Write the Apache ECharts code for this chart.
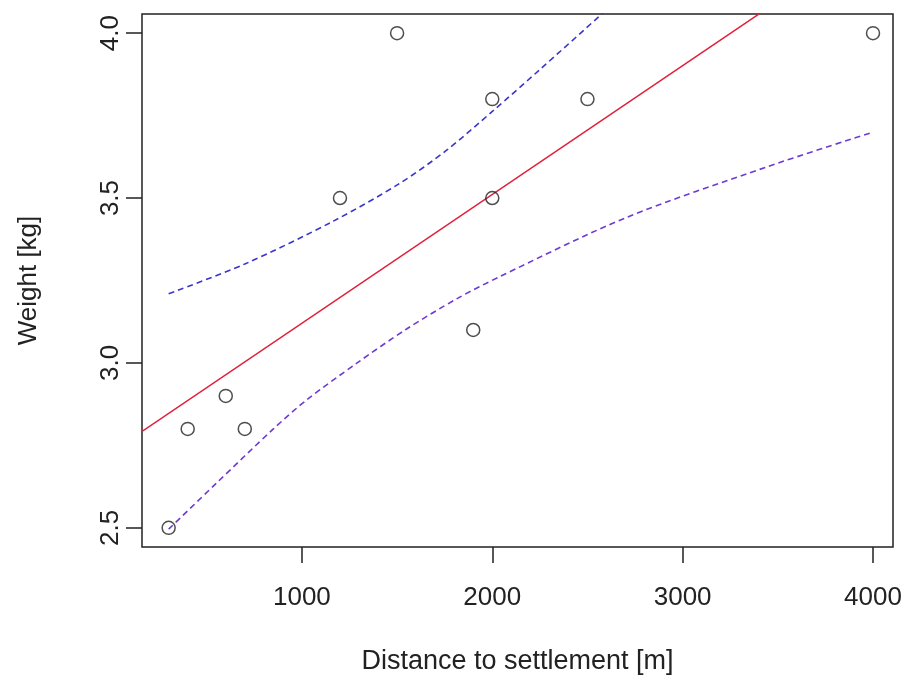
<!DOCTYPE html>
<html>
<head>
<meta charset="utf-8">
<title>Weight vs distance</title>
<script src="https://cdn.jsdelivr.net/npm/echarts@6/dist/echarts.min.js"></script>
<style>
  html, body { margin: 0; padding: 0; background: #fff; }
  #chart { width: 905px; height: 682px; }
</style>
</head>
<body>
<div id="chart"></div>
<script>
// observed points: distance [m], weight [kg]
const distance = [300, 400, 600, 700, 1200, 1500, 1900, 2000, 2000, 2500, 4000]
const weight = [2.5, 2.8, 2.9, 2.8, 3.5, 4.0, 3.1, 3.8, 3.5, 3.8, 4.0]

// fitted line, read at both ends of the plot
const fitLine = [[0, 2.73], [4200, 4.37]]

// dashed bands
const upperBand = [[300, 3.21], [700, 3.30], [1165, 3.43], [1515, 3.545], [1760, 3.645],
  [2005, 3.765], [2251, 3.89], [2575, 4.058], [2700, 4.125]]
const lowerBand = [[300, 2.496], [550, 2.635], [850, 2.80], [1025, 2.888], [1290, 3.0],
  [1550, 3.103], [1815, 3.195], [2040, 3.262], [2700, 3.44], [3440, 3.594], [4000, 3.70]]

// tick labels
const xTicks = [1000, 2000, 3000, 4000]
const yTicks = [2.5, 3.0, 3.5, 4.0]

const font = 'Liberation Sans, Arial, sans-serif'
const ink = '#222'

const chart = echarts.init(document.getElementById('chart'))

const option = {
  animation: false,
  backgroundColor: '#fff',
  grid: {
    left: 142, right: 12, top: 14, bottom: 135,
    outerBoundsMode: 'none',
    containLabel: false,
    show: true, borderColor: ink, borderWidth: 1.5, backgroundColor: 'transparent'
  },
  xAxis: {
    type: 'value',
    min: 160, max: 4105,
    name: 'Distance to settlement [m]',
    nameLocation: 'middle',
    nameGap: 101,
    nameTextStyle: { fontFamily: font, fontSize: 27, color: ink },
    axisLine: { show: false },
    splitLine: { show: false },
    axisTick: { show: true, customValues: xTicks, length: 16, lineStyle: { color: ink, width: 1.5 } },
    axisLabel: {
      customValues: xTicks, margin: 38, fontFamily: font, fontSize: 26, color: ink,
      formatter: v => String(v)
    }
  },
  yAxis: {
    type: 'value',
    min: 2.442, max: 4.058,
    name: 'Weight [kg]',
    nameLocation: 'middle',
    nameGap: 100,
    nameTextStyle: { fontFamily: font, fontSize: 26, color: ink },
    axisLine: { show: false },
    splitLine: { show: false },
    axisTick: { show: true, customValues: yTicks, length: 16, lineStyle: { color: ink, width: 1.5 } },
    axisLabel: {
      customValues: yTicks, rotate: 90, margin: 18,
      fontFamily: font, fontSize: 26, color: ink,
      formatter: v => v.toFixed(1)
    }
  },
  series: [
    {
      type: 'line',
      data: fitLine,
      showSymbol: false,
      clip: true,
      lineStyle: { color: '#e0203a', width: 1.5 },
      z: 2
    },
    {
      type: 'line',
      data: upperBand,
      smooth: 0.3,
      showSymbol: false,
      clip: true,
      lineStyle: { color: '#3a35cc', width: 1.6, type: [6, 4] },
      z: 2
    },
    {
      type: 'line',
      data: lowerBand,
      smooth: 0.3,
      showSymbol: false,
      clip: true,
      lineStyle: { color: '#6f3ad2', width: 1.6, type: [6, 4] },
      z: 2
    },
    {
      type: 'scatter',
      data: distance.map((d, i) => [d, weight[i]]),
      symbol: 'circle',
      symbolSize: 13,
      itemStyle: { color: 'transparent', borderColor: ink, borderWidth: 1.5 },
      z: 3
    }
  ]
}

chart.setOption(option)
window.addEventListener('resize', function () {
  chart.resize()
})
</script>
</body>
</html>
